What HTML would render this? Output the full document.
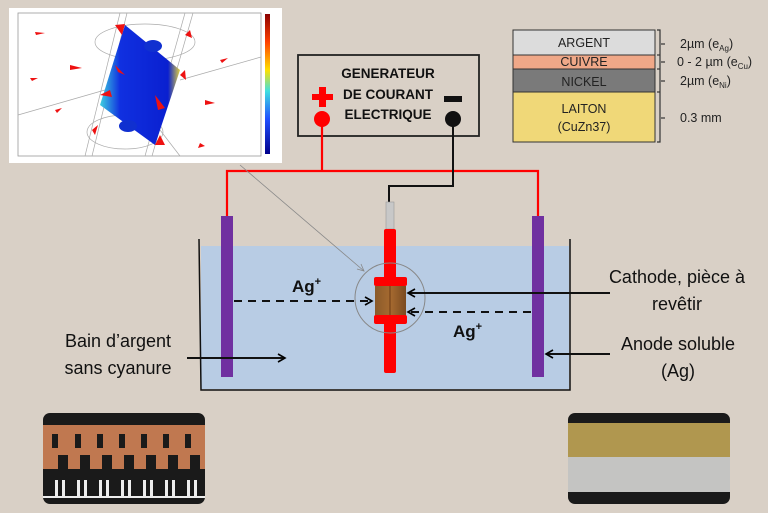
<!DOCTYPE html>
<html><head><meta charset="utf-8"><style>
html,body{margin:0;padding:0;background:#d9d0c6;}
svg{display:block;font-family:"Liberation Sans",sans-serif;}
</style></head><body>
<svg width="768" height="513" viewBox="0 0 768 513" xmlns="http://www.w3.org/2000/svg">
<defs>
<marker id="ah" markerWidth="10" markerHeight="10" refX="8" refY="5" orient="auto" markerUnits="userSpaceOnUse">
<path d="M1,1 L8,5 L1,9" fill="none" stroke="#000" stroke-width="1.6"/></marker>
<linearGradient id="blu" x1="0" x2="1"><stop offset="0" stop-color="#3dd0e0"/><stop offset="0.25" stop-color="#1030e0"/><stop offset="0.85" stop-color="#0a20d0"/><stop offset="1" stop-color="#e0d040"/></linearGradient>
<linearGradient id="cb" x1="0" y1="0" x2="0" y2="1"><stop offset="0" stop-color="#8b0000"/><stop offset="0.2" stop-color="#ff4000"/><stop offset="0.4" stop-color="#ffe000"/><stop offset="0.55" stop-color="#40e0e0"/><stop offset="0.75" stop-color="#2050ff"/><stop offset="1" stop-color="#00008b"/></linearGradient>
<linearGradient id="brn" x1="0" x2="1"><stop offset="0" stop-color="#8a5a2a"/><stop offset="0.5" stop-color="#a66a30"/><stop offset="1" stop-color="#7a4a20"/></linearGradient>
</defs>
<rect width="768" height="513" fill="#d9d0c6"/>

<!-- inset simulation -->
<rect x="9" y="8" width="273" height="155" fill="#fff"/>
<rect x="18" y="13" width="243" height="143" fill="none" stroke="#999" stroke-width="0.8"/>
<g stroke="#aaa" stroke-width="0.7" fill="none">
<ellipse cx="145" cy="42" rx="50" ry="18"/>
<ellipse cx="125" cy="132" rx="38" ry="17"/>
<line x1="18" y1="115" x2="105" y2="90"/><line x1="180" y1="80" x2="261" y2="57"/>
<line x1="120" y1="13" x2="85" y2="156"/><line x1="127" y1="13" x2="92" y2="156"/>
<line x1="185" y1="13" x2="145" y2="156"/><line x1="193" y1="13" x2="152" y2="156"/>
<line x1="160" y1="130" x2="180" y2="156"/>
</g>
<polygon points="125,25 180,70 155,145 100,105" fill="url(#blu)"/>
<ellipse cx="153" cy="46" rx="9" ry="6" fill="#1030d0"/>
<ellipse cx="128" cy="126" rx="9" ry="6" fill="#1030d0"/>
<g fill="#ee1111">
<polygon points="115,25 125,24 122,35"/><polygon points="115,65 125,75 118,72"/><polygon points="110,90 100,95 112,97"/>
<polygon points="155,95 165,108 158,110"/><polygon points="180,75 185,70 186,80"/><polygon points="160,135 165,145 155,145"/>
<polygon points="70,65 82,68 70,70"/><polygon points="205,100 215,103 205,105"/><polygon points="92,130 98,125 95,135"/>
<polygon points="185,35 190,30 192,38"/><polygon points="200,143 205,146 198,148"/><polygon points="55,110 62,108 57,113"/>
<polygon points="35,32 45,33 36,35"/><polygon points="220,60 228,58 222,63"/><polygon points="30,78 38,78 32,81"/>
</g>
<rect x="265" y="14" width="5" height="140" fill="url(#cb)"/>

<!-- generator -->
<rect x="298" y="55" width="181" height="81" fill="none" stroke="#222" stroke-width="1.8"/>
<g font-weight="bold" font-size="13.5" fill="#111" text-anchor="middle">
<text x="388" y="78">GENERATEUR</text><text x="388" y="99">DE COURANT</text><text x="388" y="119">ELECTRIQUE</text></g>
<rect x="312" y="94" width="21" height="6" fill="#f00"/><rect x="319" y="87" width="7" height="20" fill="#f00"/>
<circle cx="322" cy="119" r="8" fill="#f00"/>
<rect x="444" y="96" width="18" height="6" fill="#111"/>
<circle cx="453" cy="119" r="8" fill="#111"/>

<!-- wires -->
<polyline points="322,125 322,171" stroke="#f00" stroke-width="2.2" fill="none"/>
<polyline points="227,216 227,171 538,171 538,216" stroke="#f00" stroke-width="2.2" fill="none"/>
<polyline points="453,125 453,186 389,186 389,202" stroke="#111" stroke-width="2" fill="none"/>

<!-- layers -->
<rect x="513" y="30" width="142" height="25" fill="#dcdcdc" stroke="#333"/>
<rect x="513" y="55" width="142" height="14" fill="#f0a888" stroke="#333"/>
<rect x="513" y="69" width="142" height="23" fill="#7a7a7a" stroke="#333"/>
<rect x="513" y="92" width="142" height="50" fill="#f0d878" stroke="#333"/>
<g font-size="12.5" fill="#222" text-anchor="middle">
<text x="584" y="47">ARGENT</text><text x="584" y="66">CUIVRE</text><text x="584" y="86">NICKEL</text>
<text x="584" y="113">LAITON</text><text x="584" y="131">(CuZn37)</text></g>
<g stroke="#333" stroke-width="1.2" fill="none">
<path d="M657,30 H660 V142 H657"/><line x1="657" y1="55" x2="660" y2="55"/><line x1="657" y1="69" x2="660" y2="69"/><line x1="657" y1="92" x2="660" y2="92"/>
<line x1="661" y1="44" x2="665" y2="44"/><line x1="661" y1="62" x2="665" y2="62"/><line x1="661" y1="81" x2="665" y2="81"/><line x1="661" y1="118" x2="665" y2="118"/>
</g>
<g font-size="12.5" fill="#222">
<text x="680" y="48">2µm (e<tspan font-size="8" dy="3">Ag</tspan><tspan dy="-3">)</tspan></text>
<text x="677" y="66">0 - 2 µm (e<tspan font-size="8" dy="3">Cu</tspan><tspan dy="-3">)</tspan></text>
<text x="680" y="85">2µm (e<tspan font-size="8" dy="3">Ni</tspan><tspan dy="-3">)</tspan></text>
<text x="680" y="122">0.3 mm</text></g>

<!-- tank -->
<rect x="201" y="246" width="368" height="143" fill="#b8cce4"/>
<polyline points="199,239 201,390 570,390 570,239" fill="none" stroke="#111" stroke-width="1.5"/>
<rect x="221" y="216" width="12" height="161" fill="#7030a0"/>
<rect x="532" y="216" width="12" height="161" fill="#7030a0"/>
<rect x="386" y="202" width="8" height="27" fill="#c8c8c8" stroke="#999" stroke-width="0.6"/>
<rect x="384" y="229" width="12" height="144" rx="2" fill="#f00"/>
<rect x="375" y="286" width="31" height="30" fill="url(#brn)"/>
<line x1="390" y1="286" x2="390" y2="316" stroke="#6a3a15" stroke-width="1"/>
<rect x="374" y="277" width="33" height="9" rx="2" fill="#f00"/>
<rect x="374" y="315" width="33" height="9" rx="2" fill="#f00"/>
<circle cx="390" cy="298" r="35" fill="none" stroke="#888" stroke-width="1"/>
<line x1="240" y1="165" x2="364" y2="271" stroke="#888" stroke-width="0.8"/>
<path d="M357,269 L364,271 L361,264" fill="none" stroke="#888" stroke-width="0.8"/>

<!-- arrows -->
<line x1="234" y1="301" x2="372" y2="301" stroke="#111" stroke-width="2" stroke-dasharray="8,6" marker-end="url(#ah)"/>
<line x1="531" y1="312" x2="408" y2="312" stroke="#111" stroke-width="2" stroke-dasharray="8,6" marker-end="url(#ah)"/>
<line x1="610" y1="293" x2="408" y2="293" stroke="#111" stroke-width="2" marker-end="url(#ah)"/>
<line x1="187" y1="358" x2="285" y2="358" stroke="#111" stroke-width="2" marker-end="url(#ah)"/>
<line x1="610" y1="354" x2="546" y2="354" stroke="#111" stroke-width="2" marker-end="url(#ah)"/>
<g font-weight="bold" font-size="17" fill="#111">
<text x="292" y="292">Ag<tspan font-size="11" dy="-7">+</tspan></text>
<text x="453" y="337">Ag<tspan font-size="11" dy="-7">+</tspan></text></g>
<g font-size="18" fill="#111" text-anchor="middle">
<text x="118" y="347">Bain d’argent</text><text x="118" y="374">sans cyanure</text>
<text x="677" y="283">Cathode, pièce à</text><text x="677" y="310">revêtir</text>
<text x="678" y="350">Anode soluble</text><text x="678" y="377">(Ag)</text></g>

<!-- photos -->
<rect x="43" y="413" width="162" height="91" rx="7" fill="#1a1a1a"/>
<rect x="43" y="425" width="162" height="44" fill="#c07850"/>
<g fill="#1a1a1a">
<rect x="52" y="434" width="6" height="14"/><rect x="75" y="434" width="6" height="14"/><rect x="97" y="434" width="6" height="14"/><rect x="119" y="434" width="6" height="14"/><rect x="141" y="434" width="6" height="14"/><rect x="163" y="434" width="6" height="14"/><rect x="185" y="434" width="6" height="14"/>
<rect x="58" y="455" width="10" height="14"/><rect x="80" y="455" width="10" height="14"/><rect x="102" y="455" width="10" height="14"/><rect x="124" y="455" width="10" height="14"/><rect x="146" y="455" width="10" height="14"/><rect x="168" y="455" width="10" height="14"/><rect x="190" y="455" width="10" height="14"/>
</g>
<g fill="#eee">
<rect x="55" y="480" width="3" height="16"/><rect x="62" y="480" width="3" height="16"/><rect x="77" y="480" width="3" height="16"/><rect x="84" y="480" width="3" height="16"/><rect x="99" y="480" width="3" height="16"/><rect x="106" y="480" width="3" height="16"/><rect x="121" y="480" width="3" height="16"/><rect x="128" y="480" width="3" height="16"/><rect x="143" y="480" width="3" height="16"/><rect x="150" y="480" width="3" height="16"/><rect x="165" y="480" width="3" height="16"/><rect x="172" y="480" width="3" height="16"/><rect x="187" y="480" width="3" height="16"/><rect x="194" y="480" width="3" height="16"/>
<rect x="43" y="496" width="162" height="2"/></g>
<rect x="568" y="413" width="162" height="91" rx="7" fill="#1a1a1a"/>
<rect x="568" y="423" width="162" height="34" fill="#b0974f"/>
<rect x="568" y="457" width="162" height="35" fill="#c4c4c2"/>
</svg>
</body></html>
